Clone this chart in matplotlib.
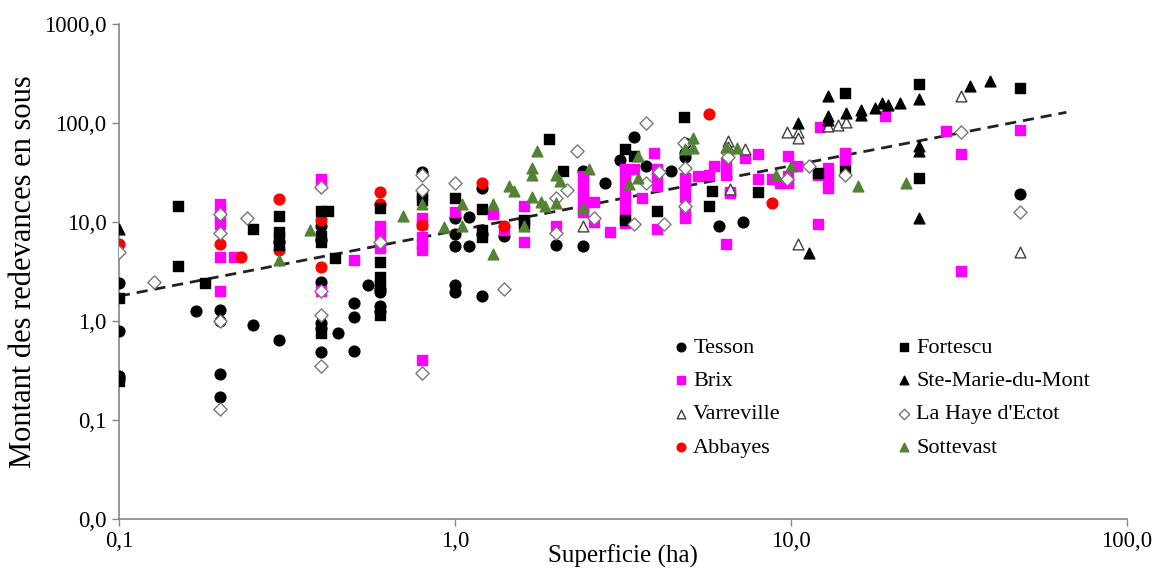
import matplotlib.pyplot as plt
from matplotlib.ticker import FixedLocator, NullLocator

plt.rcParams['font.family'] = ['Liberation Serif', 'DejaVu Serif']

# Superficie (ha) / redevances (sous)
tesson_x = [0.1, 0.1, 0.1, 0.1, 0.17, 0.2, 0.2, 0.2, 0.2, 0.25, 0.3, 0.3, 0.4, 0.4, 0.4, 0.4, 0.4, 0.4,
            0.45, 0.5, 0.5, 0.5, 0.55, 0.6, 0.6, 0.6, 0.6, 0.8, 1.0, 1.0, 1.0, 1.0, 1.0, 1.1, 1.1, 1.2, 1.2,
            1.2, 1.4, 2.0, 2.4, 2.4, 2.8, 3.1, 3.4, 3.7, 4.4, 4.85, 4.85, 4.85, 6.1, 7.2, 48]
tesson_y = [2.4, 0.8, 0.28, 0.26, 1.25, 1.3, 1.0, 0.29, 0.17, 0.9, 6.2, 0.64, 9.0, 6.5, 2.5, 0.95, 0.85, 0.48,
            0.75, 1.5, 1.1, 0.5, 2.3, 2.1, 1.95, 1.4, 1.25, 32, 11, 7.5, 5.7, 2.3, 1.95, 11.3, 5.7, 22, 7.5,
            1.8, 7.2, 5.8, 33, 5.7, 25, 42, 72, 37, 33, 62, 50, 45, 9.0, 10, 19]

fortescu_x = [0.1, 0.1, 0.15, 0.15, 0.18, 0.25, 0.3, 0.3, 0.3, 0.3, 0.4, 0.42, 0.4, 0.4, 0.44, 0.4, 0.6, 0.6,
              0.6, 0.6, 0.6, 0.8, 0.8, 1.0, 1.2, 1.2, 1.2, 1.6, 1.6, 1.9, 2.1, 3.2, 3.4, 3.2, 4.0, 4.8, 5.7,
              5.8, 8.0, 12, 14.5, 14.5, 24, 24, 48]
fortescu_y = [1.7, 0.25, 14.5, 3.6, 2.4, 8.5, 11.5, 8.0, 7.0, 5.8, 13, 13, 7.2, 6.3, 4.3, 0.75, 13.8, 3.9,
              2.8, 2.3, 1.15, 18.5, 16.5, 17.5, 13.5, 8.3, 7.0, 10.5, 9.5, 68, 33, 55, 46, 10.5, 13, 115, 14.5,
              20.5, 20, 31, 200, 33, 245, 28, 225]

brix_x = [0.2, 0.2, 0.2, 0.2, 0.2, 0.2, 0.22, 0.4, 0.4, 0.4, 0.5, 0.6, 0.6, 0.6, 0.6, 0.8, 0.8, 0.8, 0.8,
          0.8, 0.8, 1.0, 1.3, 1.4, 1.6, 1.6, 2.0, 2.4, 2.4, 2.4, 2.4, 2.4, 2.4, 2.6, 2.6, 2.9, 3.2, 3.2,
          3.2, 3.2, 3.2, 3.2, 3.2, 3.4, 3.6, 3.9, 4.0, 4.0, 4.0, 4.0, 4.85, 4.85, 4.85, 4.85, 4.85, 5.3,
          5.7, 5.9, 6.4, 6.4, 6.4, 6.4, 6.6, 6.6, 7.3, 8.0, 8.0, 8.8, 9.3, 9.8, 9.8, 9.8, 10.4, 12, 12,
          12.2, 12.9, 12.9, 12.9, 12.9, 14.5, 14.5, 14.5, 19, 29, 32, 32, 48]
brix_y = [15, 13, 11, 9.5, 4.4, 2.0, 4.4, 27, 24, 2.0, 4.1, 9, 8, 6.5, 5.5, 11, 9.5, 7, 6, 5.2, 0.4, 12.5,
          12, 8.3, 14.5, 6.2, 9, 29, 25, 21, 17, 14, 12.5, 16, 10, 8, 34, 28, 22, 18, 15, 12, 9.8, 34, 17.5,
          50, 34, 28, 23, 8.5, 28, 23, 18, 13, 11, 29, 30, 37, 39, 34, 30, 6, 20, 19.5, 44, 48, 27, 27, 25,
          46, 29, 25, 37, 30, 9.5, 90, 35, 30, 26, 22, 50, 45, 40, 118, 83, 48, 3.2, 84]

stemarie_x = [0.1, 10.5, 11.3, 12.9, 12.9, 12.9, 14.6, 16.2, 16.2, 17.8, 18.6, 19.4, 21.1, 24, 24, 24, 24,
              34, 39]
stemarie_y = [8.5, 100, 4.9, 185, 118, 107, 125, 135, 119, 141, 158, 150, 160, 175, 58, 52, 11, 235, 265]

varreville_x = [2.4, 6.5, 6.5, 6.6, 7.3, 9.7, 10.5, 10.5, 10.5, 12.9, 13.8, 14.6, 32, 48]
varreville_y = [9.0, 65, 57, 21.5, 55, 80, 80, 70, 6.0, 92, 95, 103, 185, 5.0]

lahaye_x = [0.1, 0.127, 0.2, 0.2, 0.2, 0.2, 0.24, 0.4, 0.4, 0.4, 0.4, 0.6, 0.8, 0.8, 0.8, 1.0, 1.4, 2.0,
            2.0, 2.15, 2.3, 2.6, 3.4, 3.7, 3.7, 4.05, 4.2, 4.8, 4.85, 4.85, 6.5, 6.5, 9.7, 11.3, 14.5, 32, 48]
lahaye_y = [5.0, 2.5, 12, 7.8, 1.0, 0.13, 11, 22.5, 2.0, 1.15, 0.35, 6.2, 30, 21, 0.3, 25, 2.1, 17.5, 7.7,
            21, 52, 11, 9.5, 100, 25, 32, 9.5, 63, 35, 14.6, 50, 45, 27, 37, 30, 80, 12.5]

abbayes_x = [0.1, 0.2, 0.23, 0.3, 0.3, 0.4, 0.4, 0.6, 0.6, 0.8, 1.2, 1.4, 5.7, 8.8]
abbayes_y = [6.0, 6.0, 4.4, 17, 5.2, 10.5, 3.5, 20, 15, 9.3, 25, 9.0, 123, 15.5]

sottevast_x = [0.3, 0.37, 0.7, 0.8, 0.93, 1.05, 1.05, 1.3, 1.3, 1.45, 1.5, 1.6, 1.7, 1.7, 1.7, 1.8, 1.85,
               1.75, 2.0, 2.05, 2.0, 2.5, 2.4, 3.3, 3.5, 3.5, 4.85, 5.1, 5.1, 6.4, 6.9, 9.0, 10, 15.8, 22]
sottevast_y = [4.1, 8.3, 11.5, 15, 8.8, 15, 9, 15.2, 4.7, 23, 20.5, 9, 35, 30, 18, 16, 14.5, 52, 30, 26,
               15.5, 34, 13.8, 24, 46, 28, 55, 70, 56, 57, 56, 30, 37, 23, 25]

# power trend line end points
trend_x = [0.1, 66]
trend_y = [1.78, 128]

y_ticks = [0.01, 0.1, 1, 10, 100, 1000]
y_labels = ['0,0', '0,1', '1,0', '10,0', '100,0', '1000,0']
x_ticks = [0.1, 1, 10, 100]
x_labels = ['0,1', '1,0', '10,0', '100,0']

fig = plt.figure(figsize=(11.55, 5.69), dpi=100)
ax = fig.add_axes([0.103, 0.088, 0.8728, 0.870])

green = '#548235'
ms = 60
ax.plot(trend_x, trend_y, linestyle=(0, (4, 2.5)), color='#222222', lw=2, zorder=1)
ax.scatter(tesson_x, tesson_y, s=ms, marker='o', color='black', label='Tesson', zorder=3)
ax.scatter(brix_x, brix_y, s=ms, marker='s', color='#FF00FF', label='Brix', zorder=3)
ax.scatter(varreville_x, varreville_y, s=ms, marker='^', facecolor='white', edgecolor='#404040',
           linewidth=1, label='Varreville', zorder=3)
ax.scatter(abbayes_x, abbayes_y, s=ms, marker='o', color='#FF0000', label='Abbayes', zorder=3)
ax.scatter(fortescu_x, fortescu_y, s=ms, marker='s', color='black', label='Fortescu', zorder=3)
ax.scatter(stemarie_x, stemarie_y, s=ms, marker='^', color='black', label='Ste-Marie-du-Mont', zorder=3)
ax.scatter(lahaye_x, lahaye_y, s=45, marker='D', facecolor='white', edgecolor='#777777',
           linewidth=1, label="La Haye d'Ectot", zorder=3)
ax.scatter(sottevast_x, sottevast_y, s=ms, marker='^', color=green, label='Sottevast', zorder=3)

ax.set_xscale('log')
ax.set_yscale('log')
ax.set_xlim(0.1, 100)
ax.set_ylim(0.01, 1000)
ax.xaxis.set_major_locator(FixedLocator(x_ticks))
ax.yaxis.set_major_locator(FixedLocator(y_ticks))
ax.xaxis.set_minor_locator(NullLocator())
ax.yaxis.set_minor_locator(NullLocator())
ax.set_xticklabels(x_labels, fontsize=16.5)
ax.set_yticklabels(y_labels, fontsize=16.5)
ax.tick_params(axis='both', length=5, width=1, color='#868686', pad=4)

for side in ['top', 'right']:
    ax.spines[side].set_visible(False)
for side in ['left', 'bottom']:
    ax.spines[side].set_color('#868686')
    ax.spines[side].set_linewidth(1.2)

ax.set_xlabel('Superficie (ha)', fontsize=18, labelpad=-6)
ax.set_ylabel('Montant des redevances en sous', fontsize=22, labelpad=4)

ax.legend(loc='upper left', bbox_to_anchor=(0.541, 0.39), ncol=2, frameon=False, fontsize=16,
          markerscale=0.8, handlelength=0.5, handletextpad=0.3, labelspacing=0.58,
          columnspacing=5.3, borderpad=0)

fig.savefig('out.png', dpi=100)
